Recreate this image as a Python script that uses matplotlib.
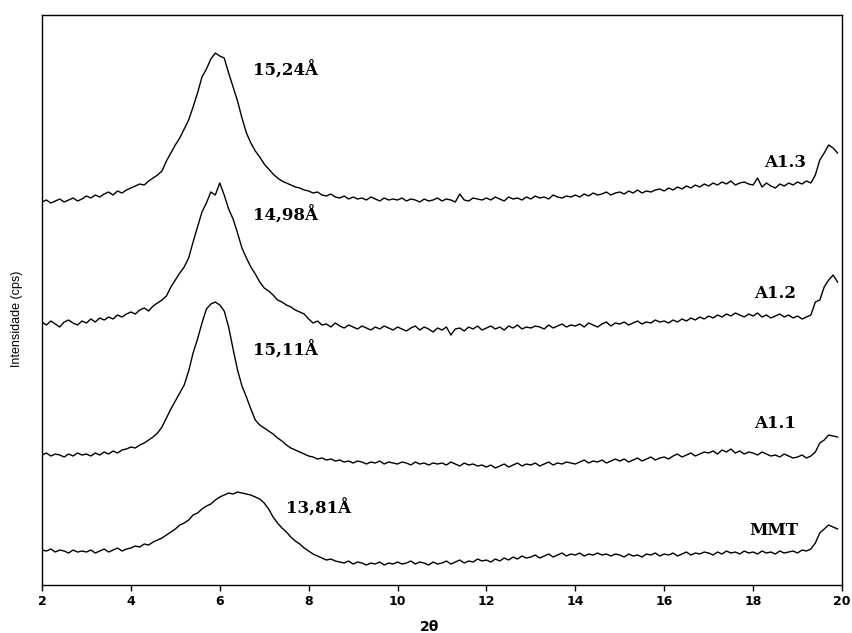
import numpy as np
import matplotlib
matplotlib.use('Agg')
from matplotlib import pyplot as plt

# 2theta grid (degrees), 0.1 step
two_theta = np.round(np.arange(2.0, 20.0, 0.1), 1)

# Intensities (cps, offset/stacked), one row per degree
A13 = [383, 385, 382, 384, 386, 383, 385, 387, 384, 386,
       389, 387, 390, 388, 391, 393, 390, 394, 392, 395,
       397, 399, 401, 400, 404, 407, 410, 414, 424, 432,
       440, 447, 456, 465, 478, 492, 508, 516, 526, 532,
       529, 527, 512, 498, 484, 467, 452, 442, 434, 428,
       421, 416, 411, 407, 404, 402, 400, 398, 397, 395,
       394, 392, 393, 390, 389, 391, 388, 387, 389, 386,
       388, 386, 387, 385, 388, 386, 384, 387, 385, 386,
       385, 387, 384, 386, 385, 383, 386, 384, 385, 387,
       384, 386, 385, 383, 391, 385, 384, 387, 386, 385,
       387, 385, 388, 386, 384, 388, 386, 387, 385, 388,
       386, 389, 387, 388, 386, 390, 388, 387, 389, 388,
       390, 388, 391, 389, 392, 390, 391, 393, 390, 392,
       393, 391, 394, 392, 395, 392, 394, 393, 395, 396,
       394, 397, 395, 398, 396, 399, 397, 400, 398, 401,
       399, 402, 400, 403, 401, 404, 400, 402, 403, 401,
       400, 407, 398, 402, 399, 397, 401, 399, 402, 400,
       403, 401, 404, 402, 410, 425, 432, 440, 437, 432]

A12 = [263, 260, 264, 261, 258, 263, 265, 262, 260, 264,
       262, 266, 263, 267, 265, 268, 266, 270, 268, 271,
       273, 271, 275, 277, 274, 279, 282, 285, 289, 298,
       305, 312, 318, 327, 343, 358, 373, 382, 393, 390,
       402, 390, 376, 366, 352, 337, 327, 318, 311, 303,
       297, 294, 290, 285, 283, 280, 278, 275, 273, 271,
       266, 262, 264, 260, 261, 258, 262, 259, 257, 260,
       258, 256, 259, 257, 255, 258, 256, 259, 257, 255,
       258, 256, 254, 257, 259, 255, 258, 256, 253, 257,
       255, 258, 250, 256, 257, 254, 258, 256, 259, 255,
       257, 259, 256, 258, 255, 259, 257, 260, 256, 258,
       257, 259, 258, 256, 260, 257, 259, 261, 258, 260,
       259, 261, 258, 262, 260, 258, 261, 263, 259, 262,
       261, 263, 260, 262, 264, 261, 263, 262, 265, 263,
       264, 262, 265, 263, 266, 264, 267, 265, 268, 266,
       269, 267, 270, 268, 271, 269, 272, 270, 268, 271,
       269, 272, 268, 270, 267, 269, 271, 268, 270, 267,
       269, 266, 268, 270, 283, 285, 298, 305, 310, 303]

A11 = [130, 132, 129, 131, 130, 128, 131, 129, 132, 130,
       131, 129, 132, 130, 133, 131, 134, 132, 135, 136,
       138, 137, 140, 142, 145, 148, 152, 158, 167, 176,
       184, 192, 200, 214, 232, 246, 262, 276, 281, 283,
       280, 274, 258, 236, 215, 199, 188, 176, 165, 160,
       157, 154, 151, 147, 144, 140, 137, 135, 133, 131,
       129, 128, 126, 127, 125, 126, 124, 125, 123, 124,
       122, 124, 123, 121, 123, 122, 124, 121, 123, 122,
       121, 123, 122, 120, 123, 121, 122, 120, 122, 121,
       122, 120, 123, 121, 119, 122, 120, 121, 119, 120,
       118, 120, 117, 119, 121, 118, 120, 122, 119, 121,
       120, 122, 119, 121, 123, 120, 122, 121, 123, 122,
       121, 123, 125, 122, 124, 123, 125, 122, 124, 126,
       124, 126, 123, 125, 127, 124, 126, 128, 125, 127,
       128, 126, 129, 131, 128, 130, 132, 129, 131, 133,
       132, 134, 131, 135, 133, 136, 132, 134, 131, 133,
       132, 130, 133, 131, 129, 130, 128, 131, 129, 127,
       128, 130, 127, 129, 133, 142, 145, 150, 149, 148]

MMT = [35, 34, 36, 33, 35, 34, 32, 35, 33, 34,
       33, 35, 32, 34, 36, 33, 35, 37, 34, 36,
       37, 39, 38, 41, 40, 43, 45, 47, 50, 53,
       56, 60, 62, 65, 70, 72, 76, 79, 81, 85,
       88, 90, 92, 91, 93, 92, 91, 90, 88, 86,
       82, 76, 68, 62, 57, 53, 48, 44, 41, 37,
       34, 31, 29, 27, 25, 26, 24, 23, 22, 24,
       21, 23, 22, 20, 22, 21, 23, 20, 22, 21,
       23, 21, 22, 24, 21, 23, 22, 20, 23, 21,
       22, 24, 21, 23, 25, 22, 24, 23, 26, 24,
       25, 23, 26, 24, 27, 25, 28, 26, 29, 27,
       28, 30, 27, 29, 31, 28, 30, 32, 29, 31,
       30, 32, 29, 31, 30, 32, 30, 31, 29, 31,
       30, 28, 31, 29, 30, 28, 31, 30, 32, 29,
       31, 30, 32, 29, 31, 33, 30, 32, 31, 33,
       32, 30, 33, 31, 34, 32, 33, 31, 34, 32,
       33, 31, 34, 32, 33, 31, 34, 32, 33, 34,
       32, 35, 34, 36, 42, 52, 56, 60, 58, 56]

amostras = ['A1.3', 'A1.2', 'A1.1', 'MMT']
series = [A13, A12, A11, MMT]

# basal spacing labels (d001) and where they sit
d001 = ['15,24Å', '14,98Å', '15,11Å', '13,81Å']
d_pos = [(6.75, 515), (6.75, 370), (6.75, 235), (7.5, 77)]
nome_pos = [(18.72, 423), (18.5, 292), (18.5, 162), (18.47, 55)]

xticks = np.arange(2, 21, 2)

##########################################################################

fig = plt.figure(figsize=(8.53, 6.33), dpi=100)
ax = fig.add_axes([0.0492, 0.0758, 0.9379, 0.9005])

for y in series:
    ax.plot(two_theta, y, '-', color='black', linewidth=1.0)

for txt, (x, y) in zip(d001, d_pos):
    ax.text(x, y, txt, fontsize=12, fontweight='bold', family='DejaVu Serif',
            ha='left', va='center')

for txt, (x, y) in zip(amostras, nome_pos):
    ax.text(x, y, txt, fontsize=12, fontweight='bold', family='DejaVu Serif',
            ha='center', va='center')

ax.set_xlim([2, 20])
ax.set_ylim([0, 570])
ax.set_xticks(xticks)
ax.set_xticklabels([str(t) for t in xticks], fontsize=9, fontweight='bold',
                   family='DejaVu Sans')
ax.set_yticks([])
ax.tick_params(axis='x', direction='out', length=4, width=1, pad=3)
for s in ax.spines.values():
    s.set_linewidth(1.0)

fig.text(0.504, 0.01, '2θ', fontsize=10, fontweight='bold', family='DejaVu Sans',
         ha='center', va='center')
fig.text(0.02, 0.496, 'Intensidade (cps)', fontsize=9, family='Liberation Sans',
         rotation=90, ha='center', va='center')

plt.savefig('out.png', dpi=100)
